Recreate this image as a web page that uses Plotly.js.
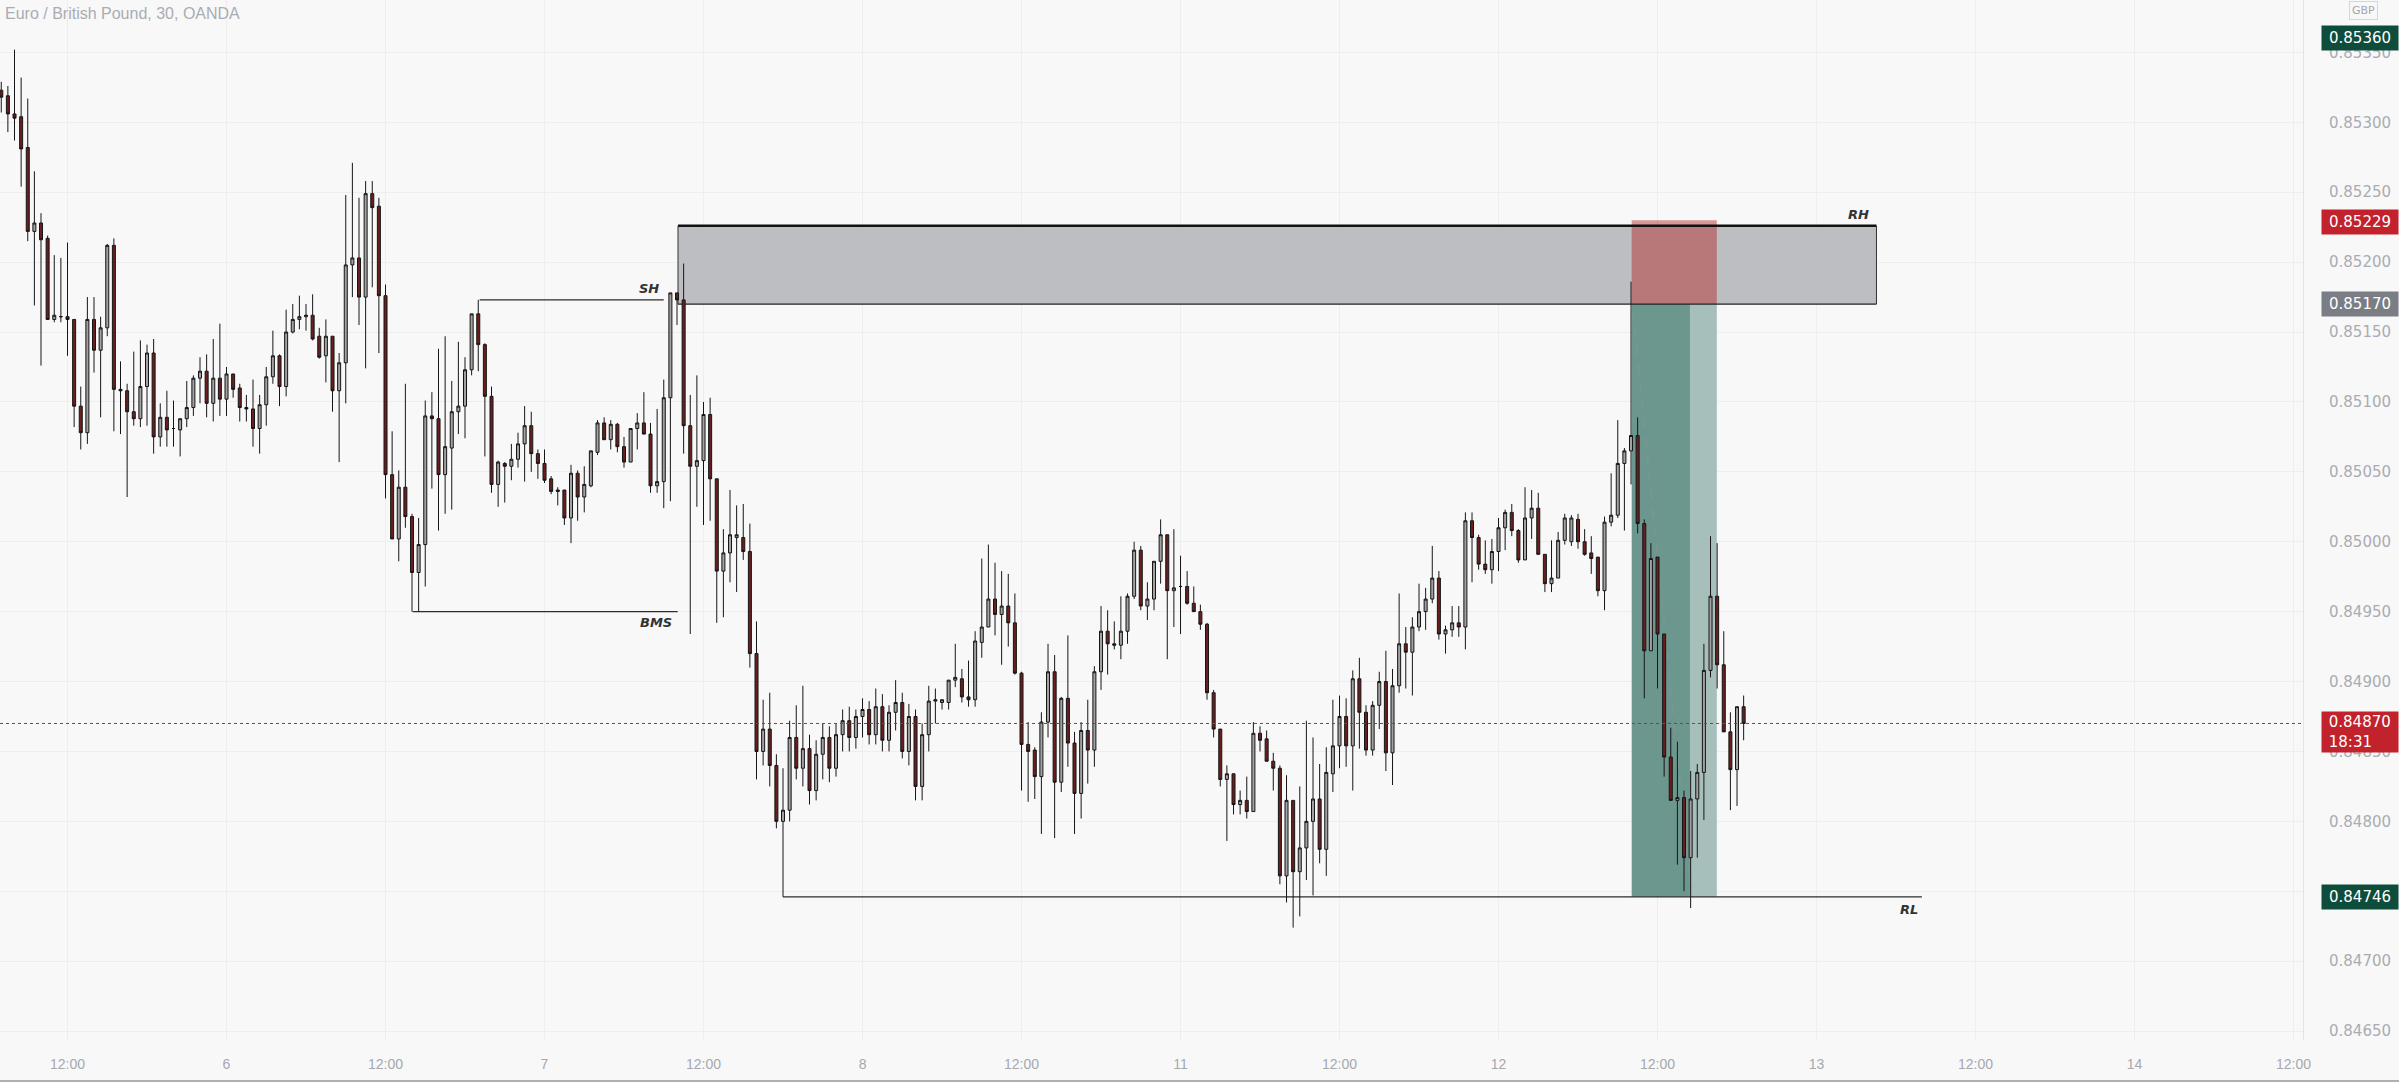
<!DOCTYPE html>
<html>
<head>
<meta charset="utf-8">
<script src="https://cdn.plot.ly/plotly-3.0.1.min.js"></script>
<style>
  html, body { margin: 0; padding: 0; background: #f8f8f8; }
  #chart { width: 2399px; height: 1082px; }
</style>
</head>
<body>
<div id="chart"></div>
<script>
// EUR/GBP 30-minute bars. Bar 0 = day "6" 00:00; first bar shown is bar -34.
const firstBar = -34;

const open = [
  0.85323,0.85319,0.85306,0.85304,0.85282,0.85222,0.85228,0.85217,0.85159,0.85161,
  0.85161,0.85159,0.85097,0.85078,0.85159,0.85137,0.85153,0.85212,0.85109,0.85108,
  0.85093,0.85088,0.85111,0.85135,0.85075,0.85089,0.85081,0.85080,0.85088,0.85096,
  0.85117,0.85122,0.85099,0.85117,0.85102,0.85120,0.85110,0.85096,0.85095,0.85081,
  0.85098,0.85118,0.85133,0.85111,0.85150,0.85159,0.85161,0.85162,0.85147,0.85133,
  0.85147,0.85108,0.85128,0.85198,0.85203,0.85175,0.85249,0.85240,0.85176,0.85048,
  0.85002,0.85039,0.85018,0.84978,0.84998,0.85090,0.85088,0.85048,0.85067,0.85093,
  0.85097,0.85123,0.85163,0.85141,0.85104,0.85041,0.85056,0.85054,0.85059,0.85070,
  0.85083,0.85063,0.85056,0.85045,0.85037,0.85037,0.85017,0.85049,0.85032,0.85040,
  0.85064,0.85085,0.85073,0.85084,0.85068,0.85057,0.85081,0.85085,0.85077,0.85040,
  0.85043,0.85103,0.85178,0.85173,0.85083,0.85054,0.85058,0.85091,0.85045,0.84979,
  0.84992,0.85003,0.85003,0.84993,0.84920,0.84850,0.84866,0.84840,0.84800,0.84808,
  0.84860,0.84838,0.84852,0.84822,0.84848,0.84860,0.84838,0.84862,0.84872,0.84860,
  0.84875,0.84880,0.84862,0.84882,0.84858,0.84878,0.84885,0.84850,0.84875,0.84825,
  0.84862,0.84886,0.84885,0.84885,0.84901,0.84902,0.84889,0.84887,0.84928,0.84939,
  0.84959,0.84948,0.84954,0.84942,0.84906,0.84855,0.84851,0.84832,0.84871,0.84907,
  0.84828,0.84888,0.84856,0.84820,0.84865,0.84851,0.84907,0.84936,0.84927,0.84926,
  0.84936,0.84961,0.84994,0.84954,0.84959,0.84986,0.85005,0.84965,0.84968,0.84968,
  0.84956,0.84950,0.84941,0.84892,0.84866,0.84830,0.84834,0.84812,0.84815,0.84807,
  0.84863,0.84859,0.84843,0.84838,0.84761,0.84815,0.84764,0.84781,0.84800,0.84816,
  0.84780,0.84834,0.84854,0.84875,0.84854,0.84902,0.84878,0.84851,0.84883,0.84900,
  0.84849,0.84897,0.84927,0.84921,0.84939,0.84950,0.84959,0.84974,0.84934,0.84937,
  0.84942,0.84939,0.85015,0.85003,0.84984,0.84980,0.84993,0.85010,0.85021,0.85008,
  0.84987,0.85017,0.85024,0.84991,0.84970,0.84974,0.85001,0.85000,0.85016,0.85000,
  0.84992,0.84989,0.84965,0.85014,0.85019,0.85056,0.85065,0.85076,0.85013,0.84922,
  0.84989,0.84934,0.84846,0.84815,0.84817,0.84774,0.84816,0.84835,0.84908,0.84961,
  0.84912,0.84864,0.84837,0.84882
];
const high = [
  0.85329,0.85326,0.85352,0.85332,0.85317,0.85265,0.85235,0.85219,0.85205,0.85203,
  0.85214,0.85159,0.85111,0.85175,0.85175,0.85161,0.85213,0.85217,0.85129,0.85113,
  0.85136,0.85144,0.85141,0.85145,0.85099,0.85108,0.85101,0.85088,0.85115,0.85119,
  0.85132,0.85134,0.85145,0.85156,0.85125,0.85120,0.85113,0.85105,0.85116,0.85105,
  0.85125,0.85151,0.85134,0.85166,0.85170,0.85176,0.85170,0.85177,0.85153,0.85159,
  0.85147,0.85135,0.85248,0.85271,0.85246,0.85258,0.85258,0.85246,0.85184,0.85079,
  0.85051,0.85113,0.85020,0.85017,0.85101,0.85107,0.85138,0.85147,0.85115,0.85143,
  0.85132,0.85163,0.85173,0.85142,0.85111,0.85058,0.85057,0.85070,0.85078,0.85097,
  0.85093,0.85066,0.85066,0.85047,0.85039,0.85037,0.85055,0.85051,0.85054,0.85065,
  0.85087,0.85089,0.85087,0.85085,0.85075,0.85081,0.85092,0.85107,0.85085,0.85095,
  0.85116,0.85178,0.85178,0.85199,0.85105,0.85119,0.85100,0.85103,0.85045,0.85009,
  0.85037,0.85026,0.85027,0.85013,0.84943,0.84887,0.84892,0.84848,0.84838,0.84872,
  0.84883,0.84897,0.84862,0.84858,0.84870,0.84868,0.84870,0.84880,0.84882,0.84880,
  0.84888,0.84886,0.84895,0.84891,0.84883,0.84901,0.84892,0.84884,0.84880,0.84870,
  0.84897,0.84895,0.84887,0.84901,0.84927,0.84909,0.84915,0.84936,0.84988,0.84998,
  0.84985,0.84979,0.84977,0.84963,0.84907,0.84871,0.84853,0.84878,0.84927,0.84919,
  0.84889,0.84933,0.84864,0.84871,0.84887,0.84911,0.84954,0.84951,0.84943,0.84961,
  0.84963,0.85000,0.84997,0.84971,0.84986,0.85016,0.85005,0.85009,0.84990,0.84979,
  0.84968,0.84955,0.84942,0.84894,0.84866,0.84840,0.84834,0.84822,0.84832,0.84871,
  0.84868,0.84865,0.84849,0.84840,0.84833,0.84815,0.84825,0.84872,0.84860,0.84841,
  0.84853,0.84887,0.84890,0.84888,0.84908,0.84917,0.84883,0.84886,0.84907,0.84922,
  0.84909,0.84963,0.84939,0.84946,0.84970,0.84967,0.84997,0.84979,0.84940,0.84954,
  0.84954,0.85021,0.85021,0.85005,0.85001,0.85002,0.85017,0.85023,0.85027,0.85009,
  0.85039,0.85037,0.85035,0.84991,0.85001,0.85007,0.85020,0.85019,0.85020,0.85009,
  0.85004,0.84989,0.85018,0.85049,0.85087,0.85067,0.85186,0.85089,0.85016,0.84999,
  0.84989,0.84934,0.84867,0.84857,0.84822,0.84836,0.84841,0.84927,0.85004,0.84999,
  0.84936,0.84878,0.84882,0.84890
];
const low = [
  0.85307,0.85293,0.85287,0.85254,0.85215,0.85169,0.85126,0.85159,0.85157,0.85157,
  0.85133,0.85082,0.85066,0.85070,0.85121,0.85089,0.85147,0.85079,0.85077,0.85032,
  0.85083,0.85082,0.85083,0.85063,0.85068,0.85068,0.85068,0.85061,0.85082,0.85090,
  0.85099,0.85089,0.85086,0.85090,0.85090,0.85103,0.85086,0.85086,0.85068,0.85063,
  0.85083,0.85113,0.85097,0.85104,0.85149,0.85152,0.85151,0.85144,0.85131,0.85114,
  0.85093,0.85057,0.85099,0.85175,0.85155,0.85124,0.85182,0.85135,0.85031,0.85002,
  0.84986,0.85010,0.84950,0.84950,0.84968,0.85038,0.85008,0.85020,0.85023,0.85077,
  0.85074,0.85119,0.85122,0.85061,0.85035,0.85025,0.85028,0.85044,0.85053,0.85043,
  0.85050,0.85045,0.85042,0.85034,0.85026,0.85012,0.84999,0.85015,0.85021,0.85039,
  0.85062,0.85073,0.85066,0.85064,0.85053,0.85057,0.85066,0.85077,0.85035,0.85035,
  0.85024,0.85029,0.85155,0.85063,0.84934,0.85025,0.85012,0.85015,0.84942,0.84946,
  0.84971,0.84964,0.84987,0.84910,0.84830,0.84840,0.84825,0.84795,0.84746,0.84800,
  0.84830,0.84825,0.84812,0.84815,0.84830,0.84828,0.84832,0.84850,0.84850,0.84852,
  0.84860,0.84855,0.84855,0.84850,0.84850,0.84865,0.84845,0.84840,0.84815,0.84815,
  0.84850,0.84870,0.84880,0.84880,0.84896,0.84885,0.84882,0.84882,0.84917,0.84939,
  0.84933,0.84912,0.84925,0.84905,0.84822,0.84814,0.84816,0.84791,0.84860,0.84788,
  0.84821,0.84839,0.84791,0.84802,0.84827,0.84839,0.84894,0.84905,0.84923,0.84916,
  0.84927,0.84959,0.84951,0.84944,0.84951,0.84970,0.84916,0.84939,0.84934,0.84955,
  0.84950,0.84937,0.84887,0.84860,0.84825,0.84786,0.84805,0.84805,0.84802,0.84807,
  0.84850,0.84843,0.84822,0.84755,0.84742,0.84724,0.84732,0.84758,0.84747,0.84770,
  0.84761,0.84821,0.84838,0.84839,0.84822,0.84852,0.84847,0.84847,0.84866,0.84836,
  0.84826,0.84892,0.84895,0.84890,0.84936,0.84937,0.84956,0.84930,0.84920,0.84932,
  0.84932,0.84923,0.84971,0.84980,0.84977,0.84970,0.84979,0.84994,0.85004,0.84985,
  0.84987,0.85002,0.84991,0.84964,0.84964,0.84974,0.84998,0.84997,0.84995,0.84990,
  0.84977,0.84961,0.84951,0.85011,0.85017,0.85008,0.85041,0.85006,0.84888,0.84922,
  0.84895,0.84832,0.84815,0.84769,0.84750,0.84738,0.84774,0.84801,0.84903,0.84895,
  0.84864,0.84808,0.84811,0.84858
];
const close = [
  0.85318,0.85306,0.85303,0.85281,0.85222,0.85228,0.85216,0.85159,0.85162,0.85161,
  0.85159,0.85097,0.85078,0.85159,0.85137,0.85153,0.85212,0.85109,0.85108,0.85093,
  0.85088,0.85111,0.85135,0.85075,0.85089,0.85080,0.85081,0.85088,0.85096,0.85117,
  0.85122,0.85099,0.85117,0.85102,0.85120,0.85109,0.85096,0.85095,0.85081,0.85098,
  0.85118,0.85133,0.85111,0.85150,0.85159,0.85161,0.85162,0.85145,0.85132,0.85147,
  0.85108,0.85128,0.85198,0.85203,0.85175,0.85249,0.85239,0.85176,0.85048,0.85002,
  0.85039,0.85018,0.84978,0.84998,0.85090,0.85088,0.85048,0.85068,0.85093,0.85097,
  0.85123,0.85163,0.85141,0.85104,0.85041,0.85057,0.85054,0.85059,0.85070,0.85083,
  0.85063,0.85056,0.85044,0.85036,0.85036,0.85017,0.85049,0.85032,0.85041,0.85065,
  0.85085,0.85073,0.85084,0.85068,0.85057,0.85081,0.85085,0.85077,0.85040,0.85043,
  0.85103,0.85178,0.85173,0.85083,0.85054,0.85058,0.85091,0.85045,0.84979,0.84992,
  0.85005,0.85005,0.84993,0.84920,0.84850,0.84866,0.84840,0.84800,0.84808,0.84860,
  0.84838,0.84852,0.84822,0.84848,0.84860,0.84838,0.84862,0.84872,0.84860,0.84875,
  0.84880,0.84862,0.84882,0.84858,0.84878,0.84885,0.84850,0.84875,0.84825,0.84862,
  0.84886,0.84887,0.84887,0.84901,0.84903,0.84889,0.84887,0.84929,0.84939,0.84959,
  0.84948,0.84954,0.84942,0.84906,0.84855,0.84850,0.84832,0.84871,0.84907,0.84828,
  0.84888,0.84856,0.84820,0.84865,0.84851,0.84907,0.84936,0.84927,0.84926,0.84936,
  0.84961,0.84994,0.84954,0.84959,0.84986,0.85005,0.84965,0.84967,0.84968,0.84956,
  0.84950,0.84941,0.84892,0.84866,0.84830,0.84834,0.84812,0.84815,0.84807,0.84863,
  0.84858,0.84843,0.84838,0.84761,0.84815,0.84764,0.84781,0.84800,0.84816,0.84780,
  0.84835,0.84854,0.84875,0.84854,0.84902,0.84878,0.84851,0.84883,0.84900,0.84849,
  0.84897,0.84927,0.84921,0.84939,0.84950,0.84959,0.84974,0.84934,0.84937,0.84942,
  0.84939,0.85015,0.85003,0.84984,0.84980,0.84993,0.85010,0.85021,0.85008,0.84987,
  0.85017,0.85024,0.84991,0.84970,0.84974,0.85001,0.85017,0.85017,0.85000,0.84991,
  0.84988,0.84965,0.85014,0.85019,0.85056,0.85065,0.85076,0.85013,0.84922,0.84988,
  0.84934,0.84846,0.84815,0.84817,0.84774,0.84816,0.84835,0.84908,0.84961,0.84912,
  0.84864,0.84837,0.84882,0.84870
];

// time-axis ticks (bar numbers) and their labels
const timeTickBars   = [-24, 0, 24, 48, 72, 96, 120, 144, 168, 192, 216, 240, 264, 288, 312];
const timeTickLabels = ['12:00','6','12:00','7','12:00','8','12:00','11','12:00','12','12:00','13','12:00','14','12:00'];

// price-axis ticks (0.84750 sits fully under the 0.84746 marker, so its text is blank)
const priceTicks = [0.84650,0.84700,0.84750,0.84800,0.84850,0.84900,0.84950,0.85000,0.85050,0.85100,0.85150,0.85200,0.85250,0.85300,0.85350];
const priceTickText = ['0.84650','0.84700','','0.84800','0.84850','0.84900','0.84950','0.85000','0.85050','0.85100','0.85150','0.85200','0.85250','0.85300','0.85350'];

// drawn levels
const shLevel = 0.85173, bmsLevel = 0.84950, rlLevel = 0.84746;
const zoneTop = 0.85226, zoneBottom = 0.85170;
const stopTop = 0.85230;
const lastPrice = 0.84870;
const priceLabels = [
  {value: 0.85360, text: '0.85360', color: '#0e4c3c'},
  {value: 0.85229, text: '0.85229', color: '#c1222c'},
  {value: 0.85170, text: '0.85170', color: '#7b7d85'},
  {value: 0.84746, text: '0.84746', color: '#0e4c3c'}
];

const x = open.map((_, i) => firstBar + i);

const trace = {
  type: 'candlestick',
  x: x, open: open, high: high, low: low, close: close,
  increasing: {line: {color: '#161616', width: 1}, fillcolor: '#a2a2a2'},
  decreasing: {line: {color: '#161616', width: 1}, fillcolor: '#6a1e1e'},
  whiskerwidth: 0,
  hoverinfo: 'none',
  showlegend: false
};

const plotRightPx = 2303, plotHeightPx = 1040;
const pxX = px => px / plotRightPx;
const pxY = px => 1 - px / plotHeightPx;

const lineCol = '#2c2c2c';
const shapes = [
  // target (green) area
  {type:'rect', xref:'x', yref:'y', x0:212.1, x1:220.9, y0:rlLevel, y1:zoneBottom, fillcolor:'#6c978f', line:{width:0}, layer:'between'},
  {type:'rect', xref:'x', yref:'y', x0:220.9, x1:224.95, y0:rlLevel, y1:zoneBottom, fillcolor:'#a7bfba', line:{width:0}, layer:'between'},
  // supply zone
  {type:'rect', xref:'x', yref:'y', x0:68.15, x1:249.05, y0:zoneBottom, y1:zoneTop, fillcolor:'#bdbec2', line:{width:0}, layer:'between'},
  // stop area
  {type:'rect', xref:'x', yref:'y', x0:212.1, x1:224.95, y0:zoneBottom, y1:stopTop, fillcolor:'rgba(178,34,34,0.45)', line:{width:0}, layer:'between'},
  // zone borders
  {type:'line', xref:'x', yref:'y', x0:68.15, x1:249.05, y0:zoneTop, y1:zoneTop, line:{color:'#111111', width:2.6}, layer:'between'},
  {type:'line', xref:'x', yref:'y', x0:68.15, x1:249.05, y0:zoneBottom, y1:zoneBottom, line:{color:'#222222', width:1.3}, layer:'between'},
  {type:'line', xref:'x', yref:'y', x0:68.15, x1:68.15, y0:zoneBottom, y1:zoneTop, line:{color:'#333333', width:1}, layer:'between'},
  {type:'line', xref:'x', yref:'y', x0:249.05, x1:249.05, y0:zoneBottom, y1:zoneTop, line:{color:'#333333', width:1}, layer:'between'},
  // trade path (dashed)
  {type:'line', xref:'x', yref:'y', x0:212.3, x1:221, y0:0.85165, y1:0.84752, line:{color:'rgba(140,150,150,0.55)', width:1.5, dash:'dash'}, layer:'between'},
  // SH, BMS, RL
  {type:'line', xref:'x', yref:'y', x0:38.2, x1:66.0, y0:shLevel, y1:shLevel, line:{color:lineCol, width:1.4}, layer:'between'},
  {type:'line', xref:'x', yref:'y', x0:28.1, x1:68.1, y0:bmsLevel, y1:bmsLevel, line:{color:lineCol, width:1.4}, layer:'between'},
  {type:'line', xref:'x', yref:'y', x0:84.0, x1:255.9, y0:rlLevel, y1:rlLevel, line:{color:lineCol, width:1.4}, layer:'between'},
  // last price line
  {type:'line', xref:'paper', yref:'y', x0:0, x1:1, y0:lastPrice, y1:lastPrice, line:{color:'#c8232c', width:1, dash:'dot'}, layer:'above'},
  // bottom border of the picture
  {type:'line', xref:'paper', yref:'paper', x0:0, x1:pxX(2399), y0:pxY(1081), y1:pxY(1081), line:{color:'#b0b0b0', width:2}}
];

const labelFont = {family:'DejaVu Sans', size:13, color:'#333333', weight:'bold', style:'italic'};
const annotations = [
  {text:'Euro / British Pound, 30, OANDA', xref:'paper', yref:'paper', x:pxX(3), y:pxY(14), xanchor:'left', yanchor:'middle', showarrow:false,
   font:{family:'Liberation Sans', size:16, color:'#a9acb3'}},
  {text:'SH', xref:'x', yref:'y', x:63.8, y:0.85181, showarrow:false, font:labelFont},
  {text:'BMS', xref:'x', yref:'y', x:64.9, y:0.84942, showarrow:false, font:labelFont},
  {text:'RH', xref:'x', yref:'y', x:246.4, y:0.85234, showarrow:false, font:labelFont},
  {text:'RL', xref:'x', yref:'y', x:254.0, y:0.84737, showarrow:false, font:labelFont},
  {text:'GBP', xref:'paper', yref:'paper', x:pxX(2363), y:pxY(11), showarrow:false, xanchor:'center', yanchor:'middle',
   font:{family:'DejaVu Sans', size:11, color:'#a4a7ae'}, bordercolor:'#d4d6da', borderwidth:1, borderpad:2}
];
priceLabels.forEach(p => annotations.push({
  text: p.text, xref:'paper', yref:'y', x: pxX(2321), y: p.value, xanchor:'left', yanchor:'middle',
  showarrow:false, bgcolor:p.color, width:72, height:20, borderpad:2, align:'center',
  font:{family:'DejaVu Sans', size:15, color:'#ffffff'}
}));
annotations.push({
  text: '&nbsp;0.84870<br>&nbsp;18:31', xref:'paper', yref:'y', x: pxX(2321), y: lastPrice, yshift: 12,
  xanchor:'left', yanchor:'top', showarrow:false, bgcolor:'#c1222c', width:72, height:36, borderpad:2, align:'left',
  font:{family:'DejaVu Sans', size:15, color:'#ffffff'}
});

const layout = {
  width: 2399, height: 1082,
  margin: {l:0, r:96, t:0, b:42, pad:0},
  paper_bgcolor: '#f8f8f8', plot_bgcolor: '#f8f8f8',
  showlegend: false,
  boxgap: 0.35,
  xaxis: {
    type:'linear', range:[-34.19, 313.43], tickmode:'array', tickvals: timeTickBars, ticktext: timeTickLabels,
    showgrid:true, gridcolor:'#eeeeee', gridwidth:1, zeroline:false, showline:false,
    ticks:'outside', ticklen:11, tickcolor:'rgba(0,0,0,0)',
    tickfont:{family:'Liberation Sans', size:14, color:'#a5a8ae'},
    rangeslider:{visible:false}, fixedrange:true
  },
  yaxis: {
    side:'right', range:[0.846436, 0.853875], tickmode:'array', tickvals: priceTicks,
    ticktext: priceTickText,
    showgrid:true, gridcolor:'#eeeeee', gridwidth:1, zeroline:false,
    showline:true, linecolor:'#e4e4e4', linewidth:1,
    ticks:'outside', ticklen:22, tickcolor:'rgba(0,0,0,0)',
    tickfont:{family:'DejaVu Sans', size:15, color:'#a9acb3'}, fixedrange:true
  },
  shapes: shapes,
  annotations: annotations
};

Plotly.newPlot('chart', [trace], layout, {staticPlot:true, displayModeBar:false});
</script>
</body>
</html>
